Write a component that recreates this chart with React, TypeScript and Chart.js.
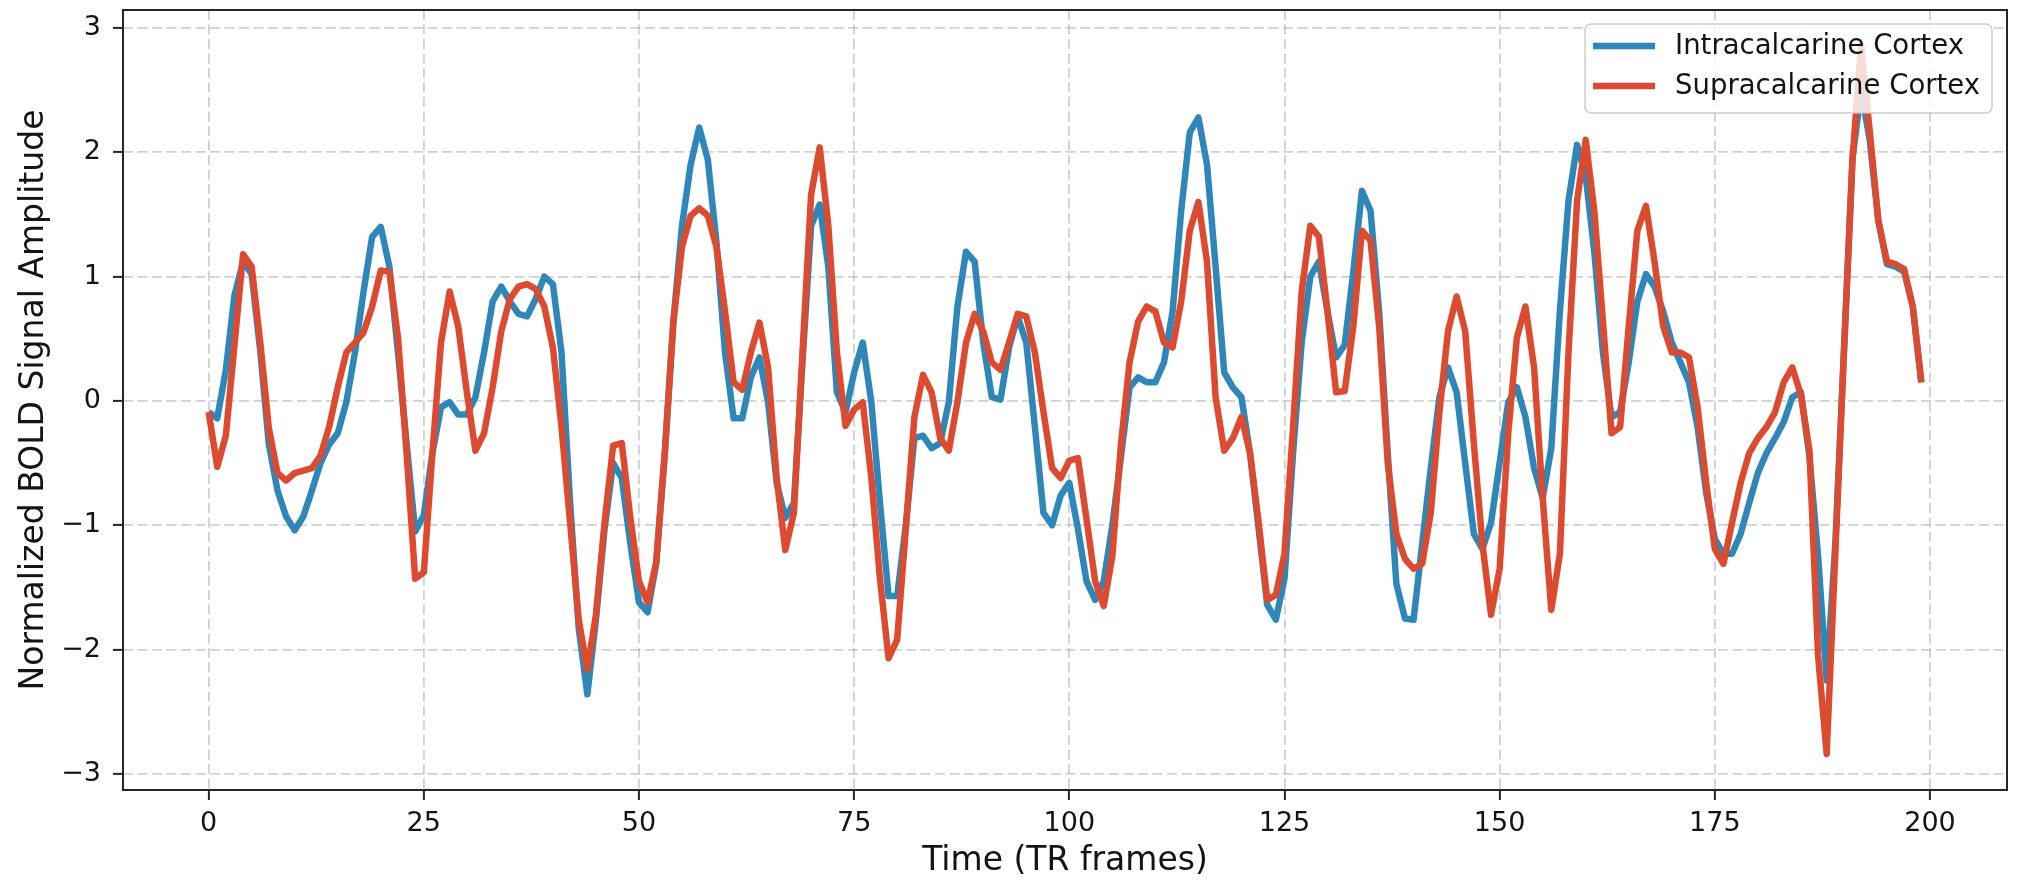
import React, { useEffect, useRef } from 'react';
import { Chart, registerables } from 'chart.js';

Chart.register(...registerables);

const SERIES_NAMES = ['Intracalcarine Cortex', 'Supracalcarine Cortex'];
const SERIES_COLORS = ['#2e86b9', '#dc4a30'];

// Intracalcarine Cortex, TR frames 0..199
const INTRA = [
  -0.09, -0.14, 0.25, 0.85, 1.12, 1.02, 0.40, -0.35, -0.72, -0.93,
  -1.04, -0.93, -0.72, -0.50, -0.35, -0.26, -0.01, 0.39, 0.88, 1.32,
  1.40, 1.08, 0.39, -0.34, -1.05, -0.92, -0.42, -0.05, -0.01, -0.11,
  -0.11, 0.03, 0.39, 0.80, 0.92, 0.80, 0.70, 0.68, 0.82, 1.00,
  0.94, 0.39, -0.82, -1.83, -2.36, -1.76, -1.03, -0.50, -0.62, -1.15,
  -1.62, -1.70, -1.31, -0.42, 0.64, 1.41, 1.90, 2.20, 1.94, 1.28,
  0.39, -0.14, -0.14, 0.19, 0.35, -0.01, -0.66, -0.94, -0.82, 0.31,
  1.41, 1.58, 1.08, 0.07, -0.09, 0.23, 0.47, -0.01, -0.82, -1.57,
  -1.57, -1.00, -0.30, -0.28, -0.38, -0.34, -0.01, 0.76, 1.20, 1.12,
  0.47, 0.03, 0.01, 0.43, 0.68, 0.47, -0.21, -0.90, -1.00, -0.76,
  -0.66, -1.03, -1.45, -1.60, -1.45, -1.00, -0.45, 0.11, 0.19, 0.15,
  0.15, 0.31, 0.72, 1.53, 2.16, 2.28, 1.90, 1.08, 0.23, 0.11,
  0.03, -0.42, -1.03, -1.64, -1.76, -1.43, -0.42, 0.47, 1.00, 1.12,
  0.72, 0.35, 0.45, 1.04, 1.69, 1.53, 0.72, -0.42, -1.47, -1.75,
  -1.76, -1.15, -0.54, 0.03, 0.27, 0.07, -0.50, -1.07, -1.19, -0.98,
  -0.50, -0.01, 0.11, -0.13, -0.54, -0.78, -0.38, 0.72, 1.61, 2.06,
  1.81, 1.20, 0.39, -0.13, -0.09, 0.31, 0.80, 1.02, 0.92, 0.72,
  0.47, 0.31, 0.15, -0.21, -0.74, -1.11, -1.23, -1.23, -1.07, -0.82,
  -0.58, -0.42, -0.30, -0.17, 0.03, 0.07, -0.45, -1.25, -2.25, -1.15,
  0.39, 1.95, 2.50, 2.10, 1.45, 1.10, 1.08, 1.04, 0.76, 0.15,
];

// Supracalcarine Cortex, TR frames 0..199
const SUPRA = [
  -0.09, -0.53, -0.28, 0.45, 1.18, 1.08, 0.47, -0.22, -0.58, -0.64,
  -0.58, -0.56, -0.54, -0.44, -0.21, 0.11, 0.39, 0.47, 0.55, 0.76,
  1.05, 1.04, 0.51, -0.42, -1.43, -1.38, -0.42, 0.47, 0.88, 0.60,
  0.07, -0.40, -0.26, 0.11, 0.56, 0.82, 0.92, 0.94, 0.90, 0.76,
  0.43, -0.21, -0.98, -1.76, -2.16, -1.72, -0.98, -0.36, -0.34, -0.94,
  -1.45, -1.62, -1.30, -0.42, 0.64, 1.24, 1.49, 1.55, 1.49, 1.24,
  0.72, 0.15, 0.09, 0.39, 0.63, 0.27, -0.62, -1.20, -0.90, 0.39,
  1.66, 2.04, 1.41, 0.39, -0.20, -0.07, -0.01, -0.62, -1.43, -2.07,
  -1.92, -1.03, -0.13, 0.21, 0.07, -0.30, -0.40, -0.01, 0.47, 0.70,
  0.56, 0.31, 0.25, 0.47, 0.70, 0.68, 0.39, -0.09, -0.54, -0.62,
  -0.48, -0.46, -0.95, -1.45, -1.65, -1.25, -0.35, 0.31, 0.64, 0.76,
  0.72, 0.47, 0.43, 0.80, 1.37, 1.60, 1.12, 0.03, -0.40, -0.30,
  -0.13, -0.42, -0.98, -1.60, -1.56, -1.23, -0.21, 0.88, 1.41, 1.32,
  0.72, 0.07, 0.08, 0.60, 1.37, 1.29, 0.60, -0.50, -1.07, -1.27,
  -1.35, -1.31, -0.90, -0.09, 0.56, 0.84, 0.56, -0.34, -1.15, -1.72,
  -1.35, -0.26, 0.51, 0.76, 0.27, -0.78, -1.68, -1.23, 0.39, 1.61,
  2.10, 1.53, 0.64, -0.26, -0.21, 0.60, 1.37, 1.57, 1.12, 0.60,
  0.39, 0.39, 0.35, -0.05, -0.66, -1.19, -1.31, -0.98, -0.66, -0.42,
  -0.30, -0.21, -0.09, 0.15, 0.27, 0.05, -0.40, -2.05, -2.84, -1.23,
  0.39, 1.95, 2.86, 2.17, 1.45, 1.12, 1.10, 1.06, 0.76, 0.15,
];

const X_TICKS = [0, 25, 50, 75, 100, 125, 150, 175, 200];
const Y_TICKS = [-3, -2, -1, 0, 1, 2, 3];
const X_RANGE = [-9.95, 208.95];
const Y_RANGE = [-3.13, 3.145];
const X_TITLE = 'Time (TR frames)';
const Y_TITLE = 'Normalized BOLD Signal Amplitude';

const FONT = "'DejaVu Sans', 'Noto Sans', sans-serif";
const TEXT_COLOR = '#141414';
const FRAME_COLOR = '#262626';
const GRID_COLOR = 'rgba(170,170,170,0.55)';

const W = 2028;
const H = 881;

const fmtTick = (v: number) => (v < 0 ? '\u2212' + Math.abs(v) : String(v));

const frameLegendPlugin = {
  id: 'frameLegend',
  afterDatasetsDraw(chart: any) {
    const { ctx, chartArea: a } = chart;
    ctx.save();
    // axes frame
    ctx.strokeStyle = FRAME_COLOR;
    ctx.lineWidth = 2;
    ctx.strokeRect(a.left, a.top, a.right - a.left, a.bottom - a.top);

    // legend (upper right, inside the axes)
    ctx.font = `27.5px ${FONT}`;
    const ds = chart.data.datasets;
    const textW = Math.max(...ds.map((d: any) => ctx.measureText(d.label).width));
    const bw = 90 + textW + 12;
    const bh = 89;
    const bx = a.right - 15 - bw;
    const by = a.top + 14;
    ctx.beginPath();
    if ((ctx as any).roundRect) (ctx as any).roundRect(bx, by, bw, bh, 6);
    else ctx.rect(bx, by, bw, bh);
    ctx.fillStyle = 'rgba(255,255,255,0.8)';
    ctx.fill();
    ctx.strokeStyle = 'rgba(200,200,200,0.9)';
    ctx.lineWidth = 1.5;
    ctx.stroke();
    ds.forEach((d: any, i: number) => {
      const ly = by + 22 + i * 40;
      ctx.beginPath();
      ctx.moveTo(bx + 8, ly);
      ctx.lineTo(bx + 70, ly);
      ctx.strokeStyle = d.borderColor;
      ctx.lineWidth = 6.5;
      ctx.lineCap = 'butt';
      ctx.stroke();
      ctx.fillStyle = TEXT_COLOR;
      ctx.textAlign = 'left';
      ctx.textBaseline = 'middle';
      ctx.fillText(d.label, bx + 90, ly + 1);
    });
    ctx.restore();
  },
};

export default function App() {
  const ref = useRef<HTMLCanvasElement | null>(null);

  useEffect(() => {
    const canvas = ref.current;
    if (!canvas) return;
    const series = [INTRA, SUPRA];
    const chart = new Chart(canvas, {
      type: 'line',
      data: {
        datasets: series.map((vals, k) => ({
          label: SERIES_NAMES[k],
          data: vals.map((v, i) => ({ x: i, y: v })),
          borderColor: SERIES_COLORS[k],
          backgroundColor: SERIES_COLORS[k],
          borderWidth: 6.5,
          pointRadius: 0,
          pointHoverRadius: 0,
          tension: 0,
          fill: false,
          borderJoinStyle: 'round' as const,
          borderCapStyle: 'butt' as const,
          order: k === 0 ? 1 : 0,
        })),
      },
      options: {
        responsive: false,
        animation: false,
        events: [],
        layout: { padding: { left: 0, top: 10, right: 21, bottom: 0 } },
        plugins: {
          legend: { display: false },
          tooltip: { enabled: false },
          title: { display: false },
        },
        scales: {
          x: {
            type: 'linear',
            min: X_RANGE[0],
            max: X_RANGE[1],
            afterBuildTicks: (s: any) => {
              s.ticks = X_TICKS.map((v) => ({ value: v }));
            },
            afterFit: (s: any) => {
              s.height = 91;
              s.paddingLeft = 0;
              s.paddingRight = 0;
              s.paddingTop = 0;
              s.paddingBottom = 0;
            },
            ticks: {
              autoSkip: false,
              maxRotation: 0,
              minRotation: 0,
              padding: 8,
              color: TEXT_COLOR,
              font: { family: FONT, size: 27 },
              callback: (v: any) => fmtTick(Number(v)),
            },
            grid: {
              color: GRID_COLOR,
              lineWidth: 1.8,
              drawTicks: true,
              tickLength: 10,
              tickWidth: 2,
              tickColor: FRAME_COLOR,
              tickBorderDash: [0, 0],
            },
            border: { display: false, dash: [10, 4.5] },
            title: {
              display: true,
              text: X_TITLE,
              color: TEXT_COLOR,
              font: { family: FONT, size: 33 },
              padding: { top: 0, bottom: 0 },
            },
          },
          y: {
            type: 'linear',
            min: Y_RANGE[0],
            max: Y_RANGE[1],
            afterBuildTicks: (s: any) => {
              s.ticks = Y_TICKS.map((v) => ({ value: v }));
            },
            afterFit: (s: any) => {
              s.width = 123;
              s.paddingLeft = 0;
              s.paddingRight = 0;
              s.paddingTop = 0;
              s.paddingBottom = 0;
            },
            ticks: {
              padding: 12,
              color: TEXT_COLOR,
              font: { family: FONT, size: 27 },
              callback: (v: any) => fmtTick(Number(v)),
            },
            grid: {
              color: GRID_COLOR,
              lineWidth: 1.8,
              drawTicks: true,
              tickLength: 10,
              tickWidth: 2,
              tickColor: FRAME_COLOR,
              tickBorderDash: [0, 0],
            },
            border: { display: false, dash: [10, 4.5] },
            title: {
              display: true,
              text: Y_TITLE,
              color: TEXT_COLOR,
              font: { family: FONT, size: 33 },
              padding: { top: 15, bottom: 0 },
            },
          },
        },
      },
      plugins: [frameLegendPlugin],
    } as any);
    return () => chart.destroy();
  }, []);

  return (
    <div
      style={{
        position: 'fixed',
        left: 0,
        top: 0,
        width: W,
        height: H,
        background: '#ffffff',
      }}
    >
      <canvas ref={ref} width={W} height={H} style={{ width: W, height: H, display: 'block' }} />
    </div>
  );
}
